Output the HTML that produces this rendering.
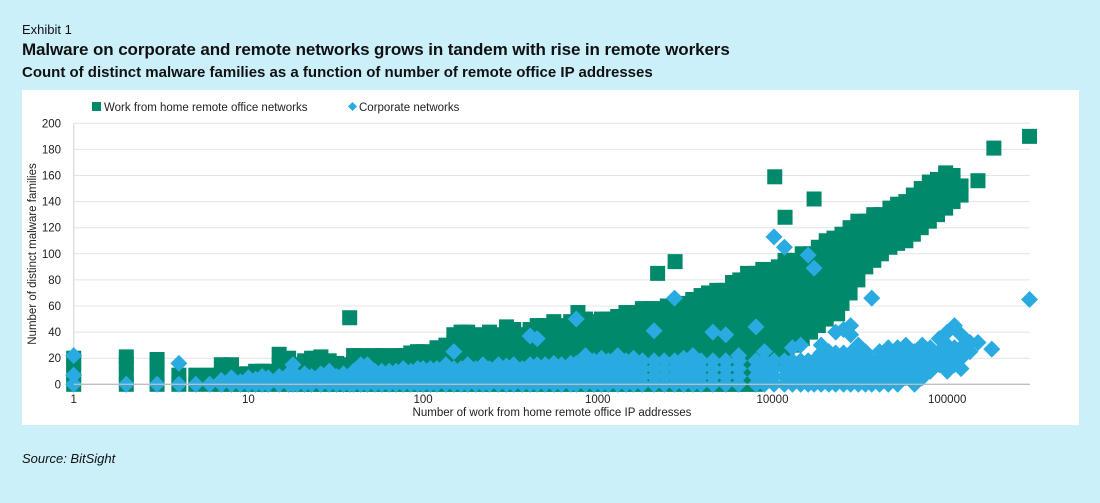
<!DOCTYPE html>
<html><head><meta charset="utf-8"><style>
body{margin:0;width:1100px;height:503px;background:#cbf0fa;font-family:"Liberation Sans",sans-serif;overflow:hidden;position:relative}
.t{position:absolute;left:22px;color:#111;white-space:nowrap}
</style></head><body>
<div class="t" style="top:22px;font-size:13px">Exhibit 1</div>
<div class="t" style="top:40px;font-size:17px;font-weight:bold;letter-spacing:-0.1px">Malware on corporate and remote networks grows in tandem with rise in remote workers</div>
<div class="t" style="top:64px;font-size:15px;font-weight:bold">Count of distinct malware families as a function of number of remote office IP addresses</div>
<div class="t" style="top:451px;font-size:13px;font-style:italic">Source: BitSight</div>
<svg id="chart" width="1100" height="503" style="position:absolute;left:0;top:0">
<rect x="22" y="90" width="1057" height="335" fill="#fff"/>
<g id="grid"></g><g id="gmarks"></g><g id="bmarks"></g><g id="axes"></g>
<g font-size="11.5" fill="#222">
<rect x="92" y="102" width="9" height="9" fill="#00896a"/>
<text x="104" y="111">Work from home remote office networks</text>
<path d="M352.5 102 L357 106.5 L352.5 111 L348 106.5Z" fill="#29abe2"/>
<text x="359" y="111">Corporate networks</text>
</g>
<text transform="translate(36,254) rotate(-90)" text-anchor="middle" font-size="11.5" fill="#222">Number of distinct malware families</text>
<text x="552" y="416" text-anchor="middle" font-size="11.5" fill="#222">Number of work from home remote office IP addresses</text>
</svg>
<script>
const yTicks=[0,20,40,60,80,100,120,140,160,180,200];
const xTicks=[1,10,100,1000,10000,100000];
const xTickLabels=["1","10","100","1000","10000","100000"];
const greenX=[1,2,3,4,5,6,7,8,9,10,11,12,13,15,17,19,21,23,26,29,32,35,38,40,44,48,53,58,64,70,77,85,93,100,110,120,135,150,165,180,200,220,240,270,300,330,370,410,450,500,560,620,700,770,850,950,1050,1150,1300,1450,1600,1800,2000,2200,2500,2770,3100,3500,3900,4300,4800,5300,5900,6500,7200,8000,8800,9700,10300,10800,11800,13300,14800,16500,17300,18300,20300,22500,23600,25000,27800,30800,34200,38000,42000,47000,52000,58000,64000,71000,79000,88000,98000,108000,120000,150000,185000,296000];
const greenY=[
[0,8,16,20],[0,8,16,21],[0,8,16,19],[0,7],[0,7],[0,7],[0,8,15],[0,8,15],[0,8],[0,8],[0,10],[0,10],[0,10],
[0,8,16,23],[0,8,16,20],[0,8,15],[0,8,16,18],[0,8,16,20],[0,8,16,21],[0,8,16,18],[0,8,16],[0,8,15],[0,8,51],
[0,8,16,22],[0,8,16,22],[0,8,16,20],[0,8,16,22],[0,8,16,22],[0,8,16,20],[0,8,16,22],[0,8,16,22],[0,8,16,24],[0,8,16,25],[0,8,16,25],
[0,8,16,22],[0,8,16,24,28],[0,8,16,24,30],[0,8,16,24,32,38],[0,8,16,24,32,40],[0,8,16,24,32,40],[0,8,16,24,32,38],[0,8,16,24,32],
[0,8,16,24,32,40],[0,8,16,24,32,38],[0,8,16,24,32,40,44],[0,8,16,24,32,40,42],[0,8,16,24,32,38],[0,8,16,24,32,40,42],[0,8,16,24,32,40,45],
[0,8,16,24,32,40,45],[0,8,16,24,32,40,48],[0,8,16,24,32,40,45],[0,8,16,24,32,40,48],[0,8,16,24,32,40,48,55],[0,8,16,24,32,40,48,50],
[0,8,16,24,32,40,48],[0,8,16,24,32,40,48,50],[0,8,16,24,32,40,48,50],[0,8,16,24,32,40,48,52],[0,8,16,24,32,40,48,55],[0,8,16,24,32,40,48,55],
[0,8,16,24,32,40,48,56,58],[0,8,16,24,32,40,48,56,58],[0,8,16,24,32,40,48,56,58,85],[0,8,16,24,32,40,48,56,60],[0,8,16,24,32,40,48,56,60,94],
[0,8,16,24,32,40,48,56,62],[0,8,16,24,32,40,48,56,64,65],[0,8,16,24,32,40,48,56,64,68],[0,8,16,24,32,40,48,56,64,70],
[0,8,16,24,32,40,48,56,64,72],[0,8,16,24,32,40,48,56,64,72],[0,8,16,24,32,40,48,56,64,72,78],[0,8,16,24,32,40,48,56,64,72,80],
[0,8,16,24,32,40,48,56,64,72,80,85],[0,8,16,24,32,40,48,56,64,72,80,85],[16,24,32,40,48,56,64,72,80,88],[20,28,36,44,52,60,68,76,84,88],
[159],[20,28,36,44,52,60,68,76,84,90],[25,33,41,49,57,65,73,81,89,95,128],[30,38,46,54,62,70,78,86,95],[35,43,51,59,67,75,83,91,100],
[40,48,56,64,72,80,88,96,100],[142],[45,53,61,69,77,85,93,101,105],[50,58,66,74,82,90,98,106,110],[58,66,74,82,90,98,106,112],[54],
[62,70,78,86,94,102,110,115],[70,78,86,94,102,110,118,120],[80,88,96,104,112,120,125],[90,98,106,114,122,125],[95,103,111,119,127,130],
[100,108,116,124,130],[105,113,121,129,135],[108,116,124,132,138],[110,118,126,134,140],[115,123,131,139,145],[120,128,136,144,150],
[125,133,141,149,155],[130,138,146,154,157],[135,143,151,159,162],[140,148,156,160],[145,152],[156],[181],[190]];
const blueX=[1,2,3,4,5,6,7,8,9,10,11,12,13,15,17,18,19,21,23,26,29,32,35,38,40,44,48,53,58,64,70,77,85,93,100,110,120,135,150,165,180,200,220,240,270,300,330,370,410,450,500,560,620,700,753,850,950,1050,1150,1300,1450,1600,1800,2100,2400,2750,3100,3500,3900,4560,5400,6400,8040,9000,10200,11700,13000,14500,16000,17300,19000,21000,23000,25500,28000,31000,34000,37000,41000,46000,52000,58000,65000,72000,80000,90000,100000,110000,120000,135000,150000,180000,296000];
const blueY=[[0,7,22],[0],[0],[0,16],[0],[0],[0,3],[0,5],[0,2],[0,5],[0,4],[0,6],[0,5],[0,6],[0,6,8],[0,6,15],[0,6],[0,6,8],[0,6],[0,6,8],[0,6,10],[0,6],[0,6,8],[0,6],[0,6,10],[0,6,12,15],[0,6,12,15],[0,6,10],[0,6,10],[0,6,10],[0,6,10],[0,6,12],[0,6,10],[0,6,12],[0,6,12],[0,6,12],[0,6,12],[0,6,12,15],[0,6,12,25],[0,6,12],[0,6,12,15],[0,6,12],[0,6,12,15],[0,6,12],[0,6,12,15],[0,6,12,14],[0,6,12,15],[0,6,12],[0,6,12,15,37],[0,6,12,15,35],[0,6,12,15],[0,6,12,16],[0,6,12,15],[0,6,12,16],[0,6,12,16,50],[0,6,12,18,22],[0,6,12,18],[0,6,12,18,20],[0,6,12,18],[0,6,12,18,22],[0,6,12,18],[0,6,12,18,20],[0,6,12,18],[0,6,12,18,41],[0,6,12,18],[0,6,12,18,66],[0,6,12,18,20],[0,6,12,18,22],[0,6,12,18],[0,6,12,18,40],[0,6,12,18,38],[0,6,12,18,22],[0,6,12,18,44],[0,6,12,18,25],[0,6,12,18,113],[0,6,12,18,105],[0,6,12,18,28],[0,6,12,18,30],[0,6,12,18,99],[0,6,12,18,89],[0,6,12,18,24,30],[0,6,12,18,25],[0,6,12,18,24,40],[0,6,12,18,24,42],[0,6,12,18,24,45,38],[0,6,12,18,24,30],[0,6,12,18,25],[0,6,12,18,66],[0,6,12,18,25],[0,6,12,18,24,28],[0,6,12,18,24,28],[5,10,16,22,30],[0,6,12,18,25],[5,10,16,22,30],[10,16,22,28],[15,20,25,35],[10,18,24,30,40],[15,22,28,45],[12,20,28,38],[25,32],[32],[27],[65]];

const NS="http://www.w3.org/2000/svg";
const X0=73.7,DEC=174.7,Y0=384.3,YS=261/200,XR=1030;
const xs=v=>X0+Math.log10(v)*DEC, ys=v=>Y0-v*YS;
function mk(tag,attrs,parent){const e=document.createElementNS(NS,tag);for(const k in attrs)e.setAttribute(k,attrs[k]);parent.appendChild(e);return e;}
const grid=document.getElementById('grid'),axes=document.getElementById('axes');
yTicks.forEach(t=>{
  if(t>0){const l=mk('line',{x1:X0,x2:XR,y1:ys(t),y2:ys(t),stroke:'#e4e4e4','stroke-width':1},grid);
  
  }
  const tx=mk('text',{x:61,y:ys(t)+4,'text-anchor':'end','font-size':11.5,fill:'#222'},axes);
  tx.textContent=t;
  
  
});
const va=mk('line',{x1:X0,x2:X0,y1:ys(200),y2:Y0,stroke:'#d9d9d9','stroke-width':1.2},grid);


const ha=mk('line',{x1:X0,x2:XR,y1:Y0,y2:Y0,stroke:'#bdbdbd','stroke-width':1.3},axes);


xTicks.forEach((t,i)=>{
  const tx=mk('text',{x:xs(t),y:403,'text-anchor':'middle','font-size':11.5,fill:'#222'},axes);
  tx.textContent=xTickLabels[i];
  
  
});
const gm=document.getElementById('gmarks'),bm=document.getElementById('bmarks');
greenX.forEach((x,i)=>greenY[i].forEach(y=>{
  const r=mk('rect',{x:xs(x)-7.5,y:ys(y)-7.5,width:15,height:15,fill:'#00896a'},gm);
  
  
}));
blueX.forEach((x,i)=>blueY[i].forEach(y=>{
  const cx=xs(x),cy=ys(y),h=8.5;
  const p=mk('path',{d:`M${cx} ${cy-h}L${cx+h} ${cy}L${cx} ${cy+h}L${cx-h} ${cy}Z`,fill:'#29abe2'},bm);
  
  
}));
</script>
</body></html>
